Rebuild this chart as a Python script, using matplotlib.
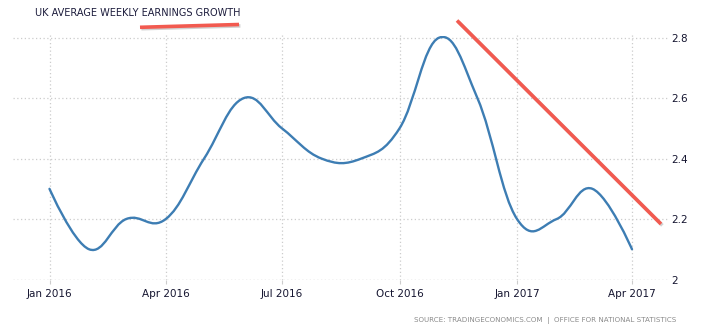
import datetime as dt
import numpy as np
import matplotlib
matplotlib.use("Agg")
import matplotlib.pyplot as plt
import matplotlib.dates as mdates
from matplotlib.path import Path
from matplotlib.patches import PathPatch, Rectangle
import matplotlib.patheffects as pe
from matplotlib.lines import Line2D

# ---- data ----
months = ["2016-01", "2016-02", "2016-03", "2016-04", "2016-05", "2016-06",
          "2016-07", "2016-08", "2016-09", "2016-10", "2016-11", "2016-12",
          "2017-01", "2017-02", "2017-03", "2017-04"]
values = [2.3, 2.1, 2.2, 2.2, 2.4, 2.6, 2.5, 2.4, 2.4, 2.5, 2.8, 2.6,
          2.2, 2.2, 2.3, 2.1]
xtick_months = ["2016-01", "2016-04", "2016-07", "2016-10", "2017-01", "2017-04"]
xtick_labels = ["Jan 2016", "Apr 2016", "Jul 2016", "Oct 2016", "Jan 2017", "Apr 2017"]
ytick_values = [2.0, 2.2, 2.4, 2.6, 2.8]
ytick_labels = ["2", "2.2", "2.4", "2.6", "2.8"]
title = "UK AVERAGE WEEKLY EARNINGS GROWTH"
source = "SOURCE: TRADINGECONOMICS.COM"
source2 = "OFFICE FOR NATIONAL STATISTICS"


def to_num(m):
    y, mo = m.split("-")
    return mdates.date2num(dt.datetime(int(y), int(mo), 1))


xs = np.array([to_num(m) for m in months])
ys = np.array(values)

W, H = 701, 334
fig = plt.figure(figsize=(W / 100, H / 100), dpi=100)
left_px, right_px, top_px, bottom_px = 13, 668, 34, 279.5
ax = fig.add_axes([left_px / W, 1 - bottom_px / H,
                   (right_px - left_px) / W, (bottom_px - top_px) / H])

# spline path (Highcharts-like smoothing)
smoothing = 1.5
den = smoothing + 1
n = len(xs)
lc = [None] * n
rc = [None] * n
for i in range(1, n - 1):
    px, py = xs[i], ys[i]
    lx, ly = xs[i - 1], ys[i - 1]
    nx, ny = xs[i + 1], ys[i + 1]
    lcx = (smoothing * px + lx) / den
    lcy = (smoothing * py + ly) / den
    rcx = (smoothing * px + nx) / den
    rcy = (smoothing * py + ny) / den
    corr = (rcy - lcy) * (rcx - px) / (rcx - lcx) + py - rcy
    lc[i] = (lcx, lcy + corr)
    rc[i] = (rcx, rcy + corr)
verts = [(xs[0], ys[0])]
codes = [Path.MOVETO]
for i in range(1, n):
    c1 = rc[i - 1] if rc[i - 1] is not None else (xs[i - 1], ys[i - 1])
    c2 = lc[i] if lc[i] is not None else (xs[i], ys[i])
    verts += [c1, c2, (xs[i], ys[i])]
    codes += [Path.CURVE4] * 3
patch = PathPatch(Path(verts, codes), facecolor="none", edgecolor="#3d7db3",
                  lw=1.7, capstyle="round", joinstyle="round", zorder=3)
ax.add_patch(patch)

px_per_day = (632 - 49.5) / (xs[-1] - xs[0])
ax.set_xlim(xs[0] - (49.5 - left_px) / px_per_day,
            xs[-1] + (right_px - 632) / px_per_day)
ax.set_ylim(2.0, 2.8 + (37.7 - top_px) / ((bottom_px - 37.7) / 0.8))

clip = Rectangle((xs[0] - 100, 1.5), (xs[-1] - xs[0]) + 200, max(ytick_values) + 0.004 - 1.5,
                 transform=ax.transData, facecolor="none", edgecolor="none")
patch.set_clip_path(clip)

for s in ax.spines.values():
    s.set_visible(False)

xt = [to_num(m) for m in xtick_months]
ax.set_xticks(xt)
ax.set_xticklabels(xtick_labels)
ax.set_yticks(ytick_values)
ax.set_yticklabels(ytick_labels)
ax.yaxis.tick_right()
ax.tick_params(axis="x", length=3, color="#cccccc", pad=4, labelsize=7.5,
               labelcolor="#151530")
ax.tick_params(axis="y", length=0, pad=2, labelsize=7.5, labelcolor="#151530")
for lab in ax.get_yticklabels():
    lab.set_horizontalalignment("left")

ax.grid(True, color="#cccccc", linestyle=(0, (1, 2)), linewidth=0.9)
ax.set_axisbelow(True)
ax.axhline(2.0, color="#cccccc", linestyle=(0, (1, 2)), linewidth=0.9, zorder=1)

fig.text(35 / W, 1 - 13 / H, title, fontsize=7.0, color="#1c1c3c",
         ha="left", va="center")
fig.text(676 / W, 1 - 321 / H,
         source + "  |  " + source2, fontsize=5.1, color="#8a8a8a",
         ha="right", va="center")

# red hand-drawn annotation strokes (figure pixel positions)
red = "#f25a50"
effects = [pe.SimpleLineShadow(offset=(1.0, -1.0), shadow_color="#9a9a9a", alpha=0.45),
           pe.Normal()]
for (x0, y0, x1, y1) in [(140, 27.3, 239, 24.5), (457, 20.5, 661, 224)]:
    ln = Line2D([x0 / W, x1 / W], [1 - y0 / H, 1 - y1 / H], transform=fig.transFigure,
                color=red, lw=2.6, solid_capstyle="butt", path_effects=effects)
    fig.add_artist(ln)

fig.savefig("out.png", dpi=100)
